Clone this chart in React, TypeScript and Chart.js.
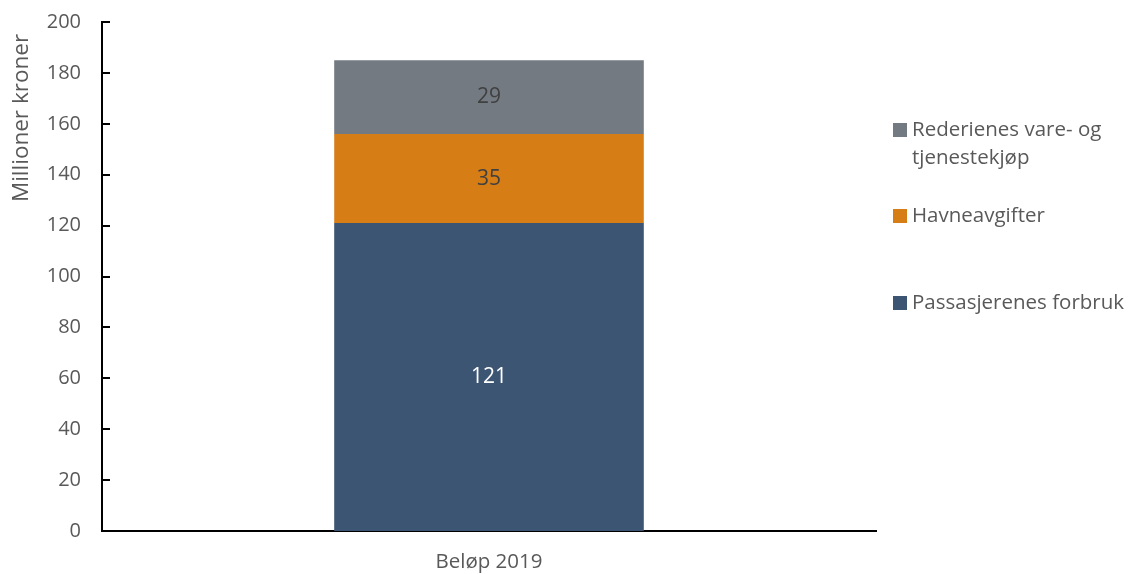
import React, { useEffect, useRef } from "react";
import { Chart, registerables } from "chart.js";

Chart.register(...registerables);

const categories = ["Beløp 2019"];
const seriesNames = ["Passasjerenes forbruk", "Havneavgifter", "Rederienes vare- og tjenestekjøp"];
const legendLines = [["Passasjerenes forbruk"], ["Havneavgifter"], ["Rederienes vare- og", "tjenestekjøp"]];
const passasjerer = [121];
const havneavgifter = [35];
const rederier = [29];
const seriesColors = ["#3B5573", "#D67D16", "#737A82"];
const labelColors = ["#FFFFFF", "#404040", "#404040"];
const yTitle = "Millioner kroner";

const FONT = "'Open Sans', 'Noto Sans', sans-serif";

const customPlugin = {
  id: "custom",
  afterDatasetsDraw(chart: any) {
    const ctx = chart.ctx;
    ctx.save();
    ctx.font = `21px ${FONT}`;
    ctx.textAlign = "center";
    ctx.textBaseline = "middle";
    chart.data.datasets.forEach((ds: any, i: number) => {
      const meta = chart.getDatasetMeta(i);
      meta.data.forEach((el: any, j: number) => {
        const { x, y, base } = el.getProps(["x", "y", "base"], true);
        ctx.fillStyle = labelColors[i];
        ctx.fillText(String(ds.data[j]), x, (y + base) / 2);
      });
    });
    ctx.restore();
  },
  afterDraw(chart: any) {
    const ctx = chart.ctx;
    const y = chart.scales.y;
    const area = chart.chartArea;
    ctx.save();
    // inward tick marks
    ctx.strokeStyle = "#000";
    ctx.lineWidth = 2;
    y.ticks.forEach((t: any) => {
      const py = Math.round(y.getPixelForValue(t.value));
      ctx.beginPath();
      ctx.moveTo(area.left, py);
      ctx.lineTo(area.left + 8, py);
      ctx.stroke();
    });
    // y title
    ctx.fillStyle = "#595959";
    ctx.font = `22.5px ${FONT}`;
    ctx.textAlign = "center";
    ctx.textBaseline = "middle";
    ctx.translate(22, 118);
    ctx.rotate(-Math.PI / 2);
    ctx.fillText(yTitle, 0, 0);
    ctx.restore();

    // legend (top to bottom: reverse order)
    ctx.save();
    ctx.font = `20.5px ${FONT}`;
    ctx.textAlign = "left";
    ctx.textBaseline = "middle";
    const centers = [303, 216, 130];
    for (let i = 2; i >= 0; i--) {
      const cy = centers[i];
      ctx.fillStyle = seriesColors[i];
      ctx.fillRect(893, cy - 7, 14, 14);
      ctx.fillStyle = "#595959";
      legendLines[i].forEach((line, k) => {
        ctx.fillText(line, 912, cy + k * 28);
      });
    }
    ctx.restore();
  },
};

export default function App() {
  const ref = useRef<HTMLCanvasElement>(null);
  useEffect(() => {
    document.body.style.margin = "0";
    const chart = new Chart(ref.current!, {
      type: "bar",
      data: {
        labels: categories,
        datasets: [
          { label: seriesNames[0], data: passasjerer, backgroundColor: seriesColors[0] },
          { label: seriesNames[1], data: havneavgifter, backgroundColor: seriesColors[1] },
          { label: seriesNames[2], data: rederier, backgroundColor: seriesColors[2] },
        ],
      },
      options: {
        animation: false,
        responsive: false,
        devicePixelRatio: 1,
        layout: { padding: { top: 22, right: 258, left: 0, bottom: 0 } },
        datasets: { bar: { barPercentage: 0.4, categoryPercentage: 1 } },
        plugins: { legend: { display: false }, tooltip: { enabled: false } },
        scales: {
          x: {
            stacked: true,
            grid: { display: false, drawTicks: false },
            border: { display: true, color: "#000", width: 2 },
            ticks: { color: "#595959", font: { family: FONT, size: 20.5 }, padding: 19 },
            afterFit: (s: any) => { s.height = 43; s.paddingLeft = 0; s.paddingRight = 0; },
          },
          y: {
            stacked: true,
            min: 0,
            max: 200,
            grid: { display: false, drawTicks: false },
            border: { display: true, color: "#000", width: 2 },
            ticks: { stepSize: 20, color: "#595959", font: { family: FONT, size: 20 }, padding: 21 },
            afterFit: (s: any) => { s.width = 102; s.paddingTop = 0; s.paddingBottom = 0; },
          },
        },
      },
      plugins: [customPlugin],
    });
    return () => chart.destroy();
  }, []);
  return <canvas ref={ref} width={1134} height={574} style={{ display: "block" }} />;
}
